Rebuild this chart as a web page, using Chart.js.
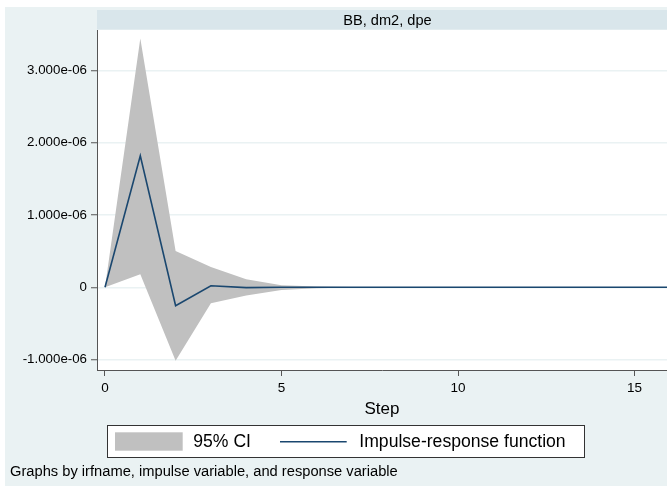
<!DOCTYPE html>
<html>
<head>
<meta charset="utf-8">
<script src="https://cdn.jsdelivr.net/npm/chart.js@4.4.1/dist/chart.umd.min.js"></script>
<style>
  html, body { margin: 0; padding: 0; background: #ffffff; }
  canvas { display: block; }
</style>
</head>
<body>
<canvas id="c" width="667" height="486"></canvas>
<script>
// ---- data ----
const steps    = [0, 1, 2, 3, 4, 5, 6, 7, 8, 9, 10, 11, 12, 13, 14, 15, 16];
const irf      = [0, 1.82e-6, -0.254e-6, 0.022e-6, -0.004e-6, 0.001e-6, 0, 0, 0, 0, 0, 0, 0, 0, 0, 0, 0];
const ciUpper  = [0, 3.44e-6, 0.502e-6, 0.28e-6, 0.11e-6, 0.03e-6, 0.01e-6, 0.004e-6, 0.001e-6, 0, 0, 0, 0, 0, 0, 0, 0];
const ciLower  = [0, 0.18e-6, -1.015e-6, -0.22e-6, -0.115e-6, -0.037e-6, -0.012e-6, -0.004e-6, -0.001e-6, 0, 0, 0, 0, 0, 0, 0, 0];
const xTicks   = [0, 5, 10, 15];
const yTicks   = [-1e-6, 0, 1e-6, 2e-6, 3e-6];
const panelTitle = 'BB, dm2, dpe';
const xTitle     = 'Step';
const legendLabels = ['95% CI', 'Impulse-response function'];
const footerText = 'Graphs by irfname, impulse variable, and response variable';

const FONT = "'Liberation Sans', Arial, sans-serif";
const BG = '#EAF2F3';
const STRIP = '#D9E6EB';
const CI_COLOR = '#C0C0C0';
const LINE_COLOR = '#1A476F';
const AXIS_COLOR = '#555555';

function fmtY(v) {
  if (Math.abs(v) < 1e-15) return '0';
  return v.toExponential(3).replace(/e([+-])(\d)$/, 'e$10$2');
}

const pts = arr => steps.map((s, i) => ({ x: s, y: arr[i] }));

const decor = {
  id: 'decor',
  beforeDraw(chart) {
    const ctx = chart.ctx, ca = chart.chartArea;
    ctx.save();
    ctx.fillStyle = '#ffffff';
    ctx.fillRect(0, 0, chart.width, chart.height);
    ctx.fillStyle = BG;
    ctx.fillRect(5, 7, chart.width - 5, chart.height - 7);
    // header strip
    ctx.fillStyle = STRIP;
    ctx.fillRect(ca.left, 10, chart.width - ca.left, 19.5);
    ctx.fillStyle = '#000';
    ctx.font = '14.6px ' + FONT;
    ctx.textAlign = 'center';
    ctx.textBaseline = 'middle';
    ctx.fillText(panelTitle, 387.4, 20.5);
    // plot region
    ctx.fillStyle = '#ffffff';
    ctx.fillRect(ca.left, 30, ca.right - ca.left, ca.bottom - 30);
    ctx.restore();
  },
  afterDraw(chart) {
    const ctx = chart.ctx;
    ctx.save();
    // legend box
    ctx.fillStyle = '#ffffff';
    ctx.fillRect(107.5, 425, 477, 32.7);
    ctx.strokeStyle = '#333333';
    ctx.lineWidth = 1;
    ctx.strokeRect(107.5, 425.5, 477, 32);
    ctx.fillStyle = CI_COLOR;
    ctx.fillRect(115, 432.3, 67.7, 18.4);
    ctx.strokeStyle = LINE_COLOR;
    ctx.lineWidth = 1.5;
    ctx.beginPath();
    ctx.moveTo(280, 441.7);
    ctx.lineTo(346.7, 441.7);
    ctx.stroke();
    ctx.fillStyle = '#000';
    ctx.font = '17.6px ' + FONT;
    ctx.textAlign = 'left';
    ctx.textBaseline = 'middle';
    ctx.fillText(legendLabels[0], 193.3, 442);
    ctx.fillText(legendLabels[1], 359.3, 442);
    // footer
    ctx.font = '14.7px ' + FONT;
    ctx.fillText(footerText, 10, 471.5);
    ctx.restore();
  }
};

new Chart(document.getElementById('c'), {
  type: 'line',
  data: {
    datasets: [
      { label: legendLabels[0], data: pts(ciUpper), fill: '+1', backgroundColor: CI_COLOR, order: 2,
        borderWidth: 0, borderColor: 'rgba(0,0,0,0)', pointRadius: 0, tension: 0 },
      { label: 'lower', data: pts(ciLower), fill: false, backgroundColor: CI_COLOR, order: 3,
        borderWidth: 0, borderColor: 'rgba(0,0,0,0)', pointRadius: 0, tension: 0 },
      { label: legendLabels[1], data: pts(irf), fill: false, borderColor: LINE_COLOR, order: 0,
        borderWidth: 1.6, pointRadius: 0, tension: 0 }
    ]
  },
  options: {
    responsive: false,
    devicePixelRatio: 1,
    animation: false,
    layout: { padding: { left: 0, top: 30, right: 0, bottom: 66 } },
    plugins: { legend: { display: false }, tooltip: { enabled: false }, filler: { drawTime: 'beforeDatasetsDraw' } },
    scales: {
      x: {
        type: 'linear',
        min: -0.2266, max: 15.92,
        afterBuildTicks: s => { s.ticks = xTicks.map(v => ({ value: v })); },
        afterFit: s => { s.height = 50; },
        ticks: { color: '#000', font: { size: 13.5, family: FONT }, padding: 4, maxRotation: 0,
                 callback: v => String(v) },
        grid: { drawOnChartArea: false, drawTicks: true, tickLength: 6, tickColor: AXIS_COLOR, tickWidth: 1 },
        border: { display: true, color: AXIS_COLOR, width: 1 },
        title: { display: true, text: xTitle, color: '#000', font: { size: 17, family: FONT }, padding: 0 }
      },
      y: {
        type: 'linear',
        min: -1.144e-6, max: 3.559e-6,
        afterBuildTicks: s => { s.ticks = yTicks.map(v => ({ value: v })); },
        afterFit: s => { s.width = 97; },
        ticks: { color: '#000', font: { size: 13.3, family: FONT }, padding: 4, callback: v => fmtY(v) },
        grid: { color: BG, lineWidth: 1.5, drawTicks: true, tickLength: 6, tickColor: AXIS_COLOR, tickWidth: 1 },
        border: { display: true, color: AXIS_COLOR, width: 1 }
      }
    }
  },
  plugins: [decor]
});
</script>
</body>
</html>
